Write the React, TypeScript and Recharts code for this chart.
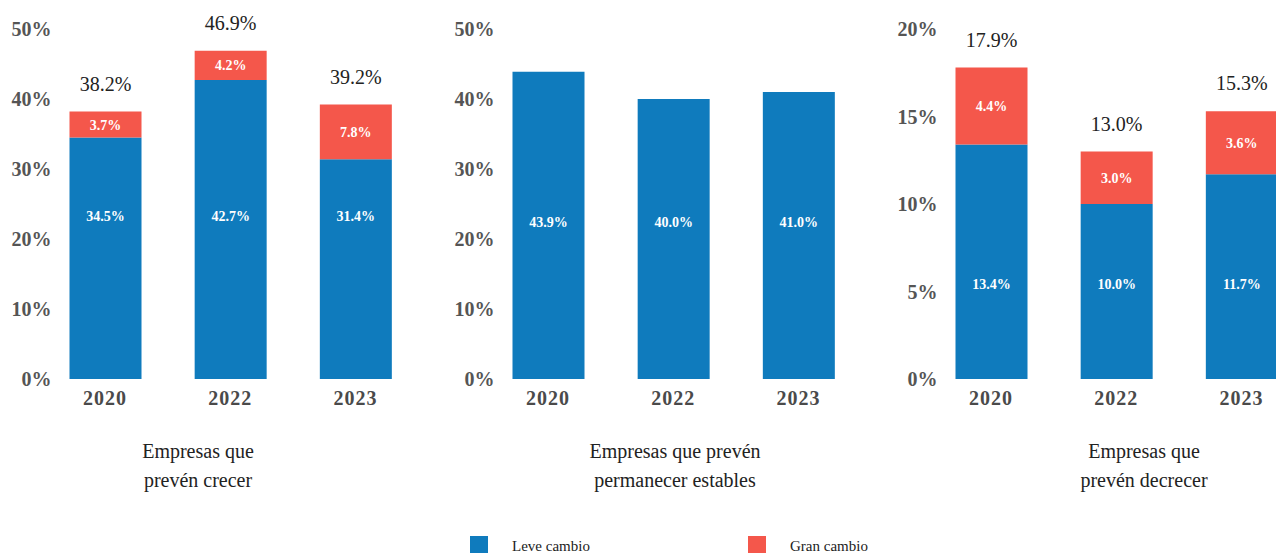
import { BarChart, Bar, XAxis, YAxis, LabelList } from 'recharts';

const years = ['2020', '2022', '2023'];

const crecerLeve = [34.5, 42.7, 31.4];
const crecerGran = [3.7, 4.2, 7.8];
const crecerTotal = [38.2, 46.9, 39.2];

const establesLeve = [43.9, 40.0, 41.0];

const decrecerLeve = [13.4, 10.0, 11.7];
const decrecerGran = [4.4, 3.0, 3.6];
const decrecerTotal = [17.9, 13.0, 15.3];

const ticks50 = [0, 10, 20, 30, 40, 50];
const ticks20 = [0, 5, 10, 15, 20];

const BLUE = '#0f7bbd';
const RED = '#f4574b';
const SERIF = "'Liberation Serif', 'Times New Roman', serif";

const build = (leve: number[], gran?: number[], total?: number[]) =>
  years.map((y, i) => ({
    year: y,
    leve: leve[i],
    gran: gran ? gran[i] : undefined,
    total: total ? total[i] : undefined,
  }));

const pct = (v: any) => `${Number(v).toFixed(1)}%`;

const YTick = (props: any) => (
  <text x={props.x + 9} y={props.y} dy="0.35em" textAnchor="end" fontFamily={SERIF} fontWeight="bold" fontSize={20} fill="#555">
    {props.payload.value}%
  </text>
);

const XTick = (props: any) => (
  <text x={props.x} y={props.y + 26} textAnchor="middle" fontFamily={SERIF} fontWeight="bold" fontSize={20} letterSpacing={1} fill="#4a4a4a">
    {props.payload.value}
  </text>
);

type PanelProps = {
  left: number;
  data: any[];
  ticks: number[];
  leveLabelY: number;
  stacked: boolean;
};

const Panel = ({ left, data, ticks, leveLabelY, stacked }: PanelProps) => {
  const LeveLabel = (p: any) => (
    <text x={p.x + p.width / 2} y={leveLabelY} dy="0.35em" textAnchor="middle" fontFamily={SERIF} fontWeight="bold" fontSize={14} fill="#fff">
      {pct(p.value)}
    </text>
  );
  const TotalLabel = (p: any) => (
    <text x={p.x + p.width / 2} y={p.y - 21} textAnchor="middle" fontFamily={SERIF} fontSize={20} fill="#222">
      {pct(p.value)}
    </text>
  );
  return (
    <div style={{ position: 'absolute', left, top: 0 }}>
      <BarChart width={420} height={420} data={data} margin={{ top: 29, right: 2, bottom: 11, left: 0 }} barCategoryGap={0}>
        <XAxis dataKey="year" height={30} axisLine={false} tickLine={false} tickSize={0} tickMargin={0} tick={<XTick />} interval={0} />
        <YAxis
          width={42.5}
          domain={[0, ticks[ticks.length - 1]]}
          ticks={ticks}
          axisLine={false}
          tickLine={false}
          tickSize={0}
          tickMargin={0}
          tick={<YTick />}
          interval={0}
        />
        <Bar dataKey="leve" stackId="a" fill={BLUE} barSize={72} isAnimationActive={false}>
          <LabelList dataKey="leve" content={<LeveLabel />} />
        </Bar>
        {stacked && (
          <Bar dataKey="gran" stackId="a" fill={RED} barSize={72} isAnimationActive={false}>
            <LabelList dataKey="gran" position="center" formatter={pct} fill="#fff" fontFamily={SERIF} fontWeight="bold" fontSize={14} />
            <LabelList dataKey="total" content={<TotalLabel />} />
          </Bar>
        )}
      </BarChart>
    </div>
  );
};

const titleStyle = (center: number): React.CSSProperties => ({
  position: 'absolute',
  left: center - 150,
  width: 300,
  top: 437,
  textAlign: 'center',
  fontFamily: SERIF,
  fontSize: 20,
  lineHeight: '29px',
  color: '#222',
});

const legendItem = (left: number, color: string, label: string) => (
  <div style={{ position: 'absolute', left, top: 536, display: 'flex', alignItems: 'flex-start' }}>
    <div style={{ width: 18, height: 18, background: color }} />
    <span style={{ marginLeft: 24, fontFamily: SERIF, fontSize: 15, lineHeight: '20px', color: '#222' }}>{label}</span>
  </div>
);

export default function App() {
  return (
    <div style={{ position: 'relative', width: 1276, height: 553, overflow: 'hidden', background: '#fff' }}>
      <style>{'body{margin:0}'}</style>
      <Panel left={0} data={build(crecerLeve, crecerGran, crecerTotal)} ticks={ticks50} leveLabelY={216} stacked />
      <Panel left={442.5} data={build(establesLeve)} ticks={ticks50} leveLabelY={222} stacked={false} />
      <Panel left={886} data={build(decrecerLeve, decrecerGran, decrecerTotal)} ticks={ticks20} leveLabelY={284} stacked />
      <div style={titleStyle(198)}>Empresas que<br />prevén crecer</div>
      <div style={titleStyle(675)}>Empresas que prevén<br />permanecer estables</div>
      <div style={titleStyle(1144)}>Empresas que<br />prevén decrecer</div>
      {legendItem(470, BLUE, 'Leve cambio')}
      {legendItem(748, RED, 'Gran cambio')}
    </div>
  );
}
